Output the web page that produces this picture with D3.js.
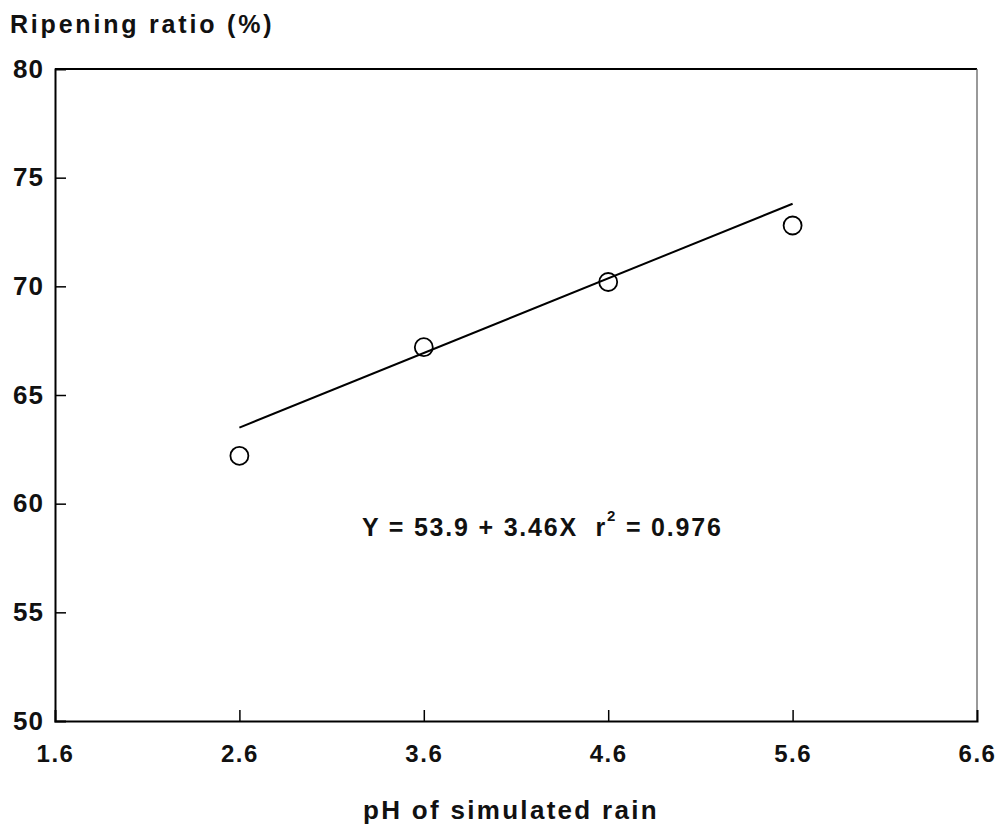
<!DOCTYPE html>
<html>
<head>
<meta charset="utf-8">
<script src="https://cdn.jsdelivr.net/npm/d3@7"></script>
<style>
  body { margin: 0; background: #fff; }
  text { font-family: "Liberation Sans", Arial, sans-serif; font-weight: bold; fill: #111; }
</style>
</head>
<body>
<div id="chart-container"></div>
<script>
// observed values
const phValues = [2.6, 3.6, 4.6, 5.6];
const ripening = [62.2, 67.2, 70.2, 72.8];

// fitted line as drawn
const fitX = [2.6, 5.6];
const fitY = [63.5, 73.8];

const xTicks = [1.6, 2.6, 3.6, 4.6, 5.6, 6.6];
const yTicks = [50, 55, 60, 65, 70, 75, 80];

const W = 1002, H = 830;
const margin = {top: 69, right: 25, bottom: 109, left: 55},
      width = W - margin.left - margin.right,
      height = H - margin.top - margin.bottom;

const svg = d3.select("#chart-container").append("svg")
    .attr("width", W)
    .attr("height", H);

const g = svg.append("g")
    .attr("transform", `translate(${margin.left}, ${margin.top})`);

const x = d3.scaleLinear().domain([1.6, 6.6]).range([0, width]);
const y = d3.scaleLinear().domain([50, 80]).range([height, 0]);

// frame
g.append("line").attr("x1", 0).attr("x2", width).attr("y1", 0).attr("y2", 0)
    .attr("stroke", "#000").attr("stroke-width", 2);
g.append("line").attr("x1", width).attr("x2", width).attr("y1", 0).attr("y2", height)
    .attr("stroke", "#555").attr("stroke-width", 1.2);

// x axis, ticks pointing inward
const xAxis = g.append("g")
    .attr("transform", `translate(0, ${height})`)
    .call(d3.axisBottom(x).tickValues(xTicks).tickSize(-11).tickFormat(d3.format(".1f")));
xAxis.select(".domain").attr("stroke", "#000").attr("stroke-width", 2);
xAxis.selectAll(".tick line").attr("stroke", "#000").attr("stroke-width", 1.5)
    .filter(d => d === 1.6 || d === 6.6).remove();
xAxis.selectAll(".tick text")
    .attr("y", 41)
    .attr("dy", 0)
    .style("font-size", "24px")
    .style("letter-spacing", "1.5px")
    .style("font-family", "'Liberation Sans', Arial, sans-serif")
    .style("font-weight", "bold")
    .attr("fill", "#111");

// y axis, ticks pointing inward
const yAxis = g.append("g")
    .call(d3.axisLeft(y).tickValues(yTicks).tickSize(-11));
yAxis.select(".domain").attr("stroke", "#000").attr("stroke-width", 2);
yAxis.selectAll(".tick line").attr("stroke", "#000").attr("stroke-width", 1.5)
    .filter(d => d === 50 || d === 80).remove();
yAxis.selectAll(".tick text")
    .attr("x", -11)
    .style("font-size", "26px")
    .style("letter-spacing", "1px")
    .style("font-family", "'Liberation Sans', Arial, sans-serif")
    .style("font-weight", "bold")
    .attr("fill", "#111");

// regression line
g.append("path")
    .datum(d3.zip(fitX, fitY))
    .attr("fill", "none")
    .attr("stroke", "#000")
    .attr("stroke-width", 2)
    .attr("d", d3.line().x(d => x(d[0])).y(d => y(d[1])));

// observed points
g.selectAll(".pt")
    .data(d3.zip(phValues, ripening))
    .enter().append("circle")
    .attr("class", "pt")
    .attr("cx", d => x(d[0]))
    .attr("cy", d => y(d[1]))
    .attr("r", 9)
    .attr("fill", "none")
    .attr("stroke", "#000")
    .attr("stroke-width", 1.8);

// equation
const eq = g.append("text")
    .attr("x", 362 - margin.left)
    .attr("y", 536 - margin.top)
    .style("font-size", "25px")
    .style("letter-spacing", "1.8px")
    .style("white-space", "pre");
eq.append("tspan").text("Y = 53.9 + 3.46X  r");
eq.append("tspan").attr("dy", -15).style("font-size", "15px").text("2");
eq.append("tspan").attr("dy", 15).text(" = 0.976");

// axis titles
svg.append("text")
    .attr("x", 10)
    .attr("y", 33)
    .style("font-size", "25px")
    .style("letter-spacing", "2.8px")
    .text("Ripening ratio (%)");

svg.append("text")
    .attr("x", 511)
    .attr("y", 819)
    .attr("text-anchor", "middle")
    .style("font-size", "26px")
    .style("letter-spacing", "2.3px")
    .text("pH of simulated rain");
</script>
</body>
</html>
